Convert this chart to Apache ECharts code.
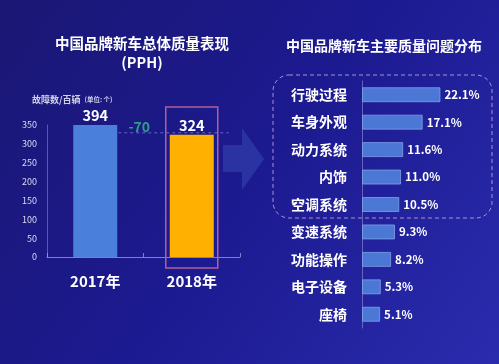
<!DOCTYPE html>
<html><head><meta charset="utf-8">
<script src="https://cdn.jsdelivr.net/npm/echarts@6/dist/echarts.min.js"></script>
<style>html,body{margin:0;padding:0;background:#1c1a88;}#c{width:499px;height:364px;}</style>
</head><body><div id="c"></div>
<script>
const years = ['2017年', '2018年'];
const pph = [394, 324];
const pphTicks = [0, 50, 100, 150, 200, 250, 300, 350];
const issues = ['行驶过程', '车身外观', '动力系统', '内饰', '空调系统', '变速系统', '功能操作', '电子设备', '座椅'];
const shares = [22.1, 17.1, 11.6, 11.0, 10.5, 9.3, 8.2, 5.3, 5.1];
const diffText = '-70';

const FONT = '"Noto Sans CJK SC", "Noto Sans", sans-serif';
const chart = echarts.init(document.getElementById('c'), null, {renderer: 'canvas'});
chart.setOption({
  backgroundColor: {type: 'linear', x: 0, y: 0, x2: 1, y2: 1, colorStops: [
    {offset: 0, color: '#1a1774'}, {offset: 0.5, color: '#1c1a90'}, {offset: 1, color: '#2a2cae'}]},
  animation: false,
  textStyle: {fontFamily: FONT},
  title: [
    {text: '中国品牌新车总体质量表现\n(PPH)', left: 137, top: 29, textAlign: 'center',
     textStyle: {color: '#fff', fontSize: 14.5, fontWeight: 'bold', lineHeight: 19, fontFamily: FONT}},
    {text: '中国品牌新车主要质量问题分布', left: 379, top: 34, textAlign: 'center',
     textStyle: {color: '#fff', fontSize: 14, fontWeight: 'bold', fontFamily: FONT}},
    {text: '{a|故障数/百辆} {b|(单位: 个)}', left: 27, top: 86,
     textStyle: {rich: {a: {color: '#d0d0ea', fontSize: 9, fontFamily: FONT}, b: {color: '#d0d0ea', fontSize: 6.5, fontFamily: FONT}}}}
  ],
  grid: [
    {left: 47, top: 125, width: 193, height: 132},
    {left: 362, top: 81, width: 88.75, height: 247}
  ],
  xAxis: [
    {type: 'category', gridIndex: 0, data: years,
     axisLine: {lineStyle: {color: 'rgba(170,170,225,0.7)'}},
     axisTick: {show: true, inside: true, length: 4, lineStyle: {color: 'rgba(170,170,225,0.7)'}},
     axisLabel: {color: '#fff', fontSize: 15, fontWeight: 'bold', margin: 17, fontFamily: FONT}},
    {type: 'value', gridIndex: 1, min: 0, max: 25, show: false}
  ],
  yAxis: [
    {type: 'value', gridIndex: 0, min: pphTicks[0], max: pphTicks[pphTicks.length - 1], interval: pphTicks[1] - pphTicks[0],
     axisLine: {show: true, lineStyle: {color: 'rgba(170,170,225,0.45)'}},
     axisTick: {show: false}, splitLine: {show: false},
     axisLabel: {color: '#dcdcf0', fontSize: 9, margin: 10, fontFamily: FONT}},
    {type: 'category', gridIndex: 1, data: issues, inverse: true,
     axisLine: {show: true, lineStyle: {color: 'rgba(170,170,225,0.5)'}},
     axisTick: {show: false},
     axisLabel: {color: '#fff', fontSize: 14, fontWeight: 'bold', margin: 15, fontFamily: FONT}}
  ],
  series: [
    {type: 'bar', xAxisIndex: 0, yAxisIndex: 0, barWidth: 44, clip: true,
     data: pph.map((v, i) => ({value: v, itemStyle: {color: i === 0 ? '#4a7fdc' : '#ffb000'}})),
     label: {show: true, position: 'top', distance: 2, color: '#fff', fontSize: 14.5, fontWeight: 'bold', fontFamily: FONT}},
    {type: 'bar', xAxisIndex: 1, yAxisIndex: 1, barWidth: 15, data: shares,
     itemStyle: {color: '#4a78d4', borderColor: 'rgba(140,170,240,0.7)', borderWidth: 1},
     label: {show: true, position: 'right', distance: 4, color: '#fff', fontSize: 11.5, fontWeight: 'bold', fontFamily: FONT,
             formatter: p => p.value.toFixed(1) + '%'}}
  ]
});

function addGraphics() {
  const y324 = chart.convertToPixel({gridIndex: 0}, [1, pph[1]])[1];
  const p17 = chart.convertToPixel({gridIndex: 0}, [0, 0]);
  const p18 = chart.convertToPixel({gridIndex: 0}, [1, 0]);
  chart.setOption({graphic: [
    {type: 'polygon', z: 0, shape: {points: [[223,145],[242,145],[242,128],[264,159],[242,190],[242,172],[223,172]]},
     style: {fill: 'rgba(80,110,210,0.3)'}},
    {type: 'line', z: 1, shape: {x1: p17[0] + 23, y1: y324 - 2, x2: p18[0] + 37, y2: y324 - 2},
     style: {stroke: 'rgba(120,140,220,0.7)', lineWidth: 1, lineDash: [3, 3]}},
    {type: 'text', z: 5, x: p17[0] + 44, y: y324 - 8, style: {text: diffText, fill: '#2e9e88', font: 'bold 14px ' + FONT,
     textAlign: 'center', textVerticalAlign: 'middle'}},
    {type: 'rect', z: 5, shape: {x: p18[0] - 26, y: 107, width: 52, height: 161},
     style: {fill: 'none', stroke: '#b35e98', lineWidth: 1.5}},
    {type: 'rect', z: 5, shape: {x: 273, y: 75, width: 219, height: 143, r: 16},
     style: {fill: 'none', stroke: 'rgba(195,165,225,0.85)', lineWidth: 1, lineDash: [4, 3]}}
  ]});
}
addGraphics();
</script></body></html>
